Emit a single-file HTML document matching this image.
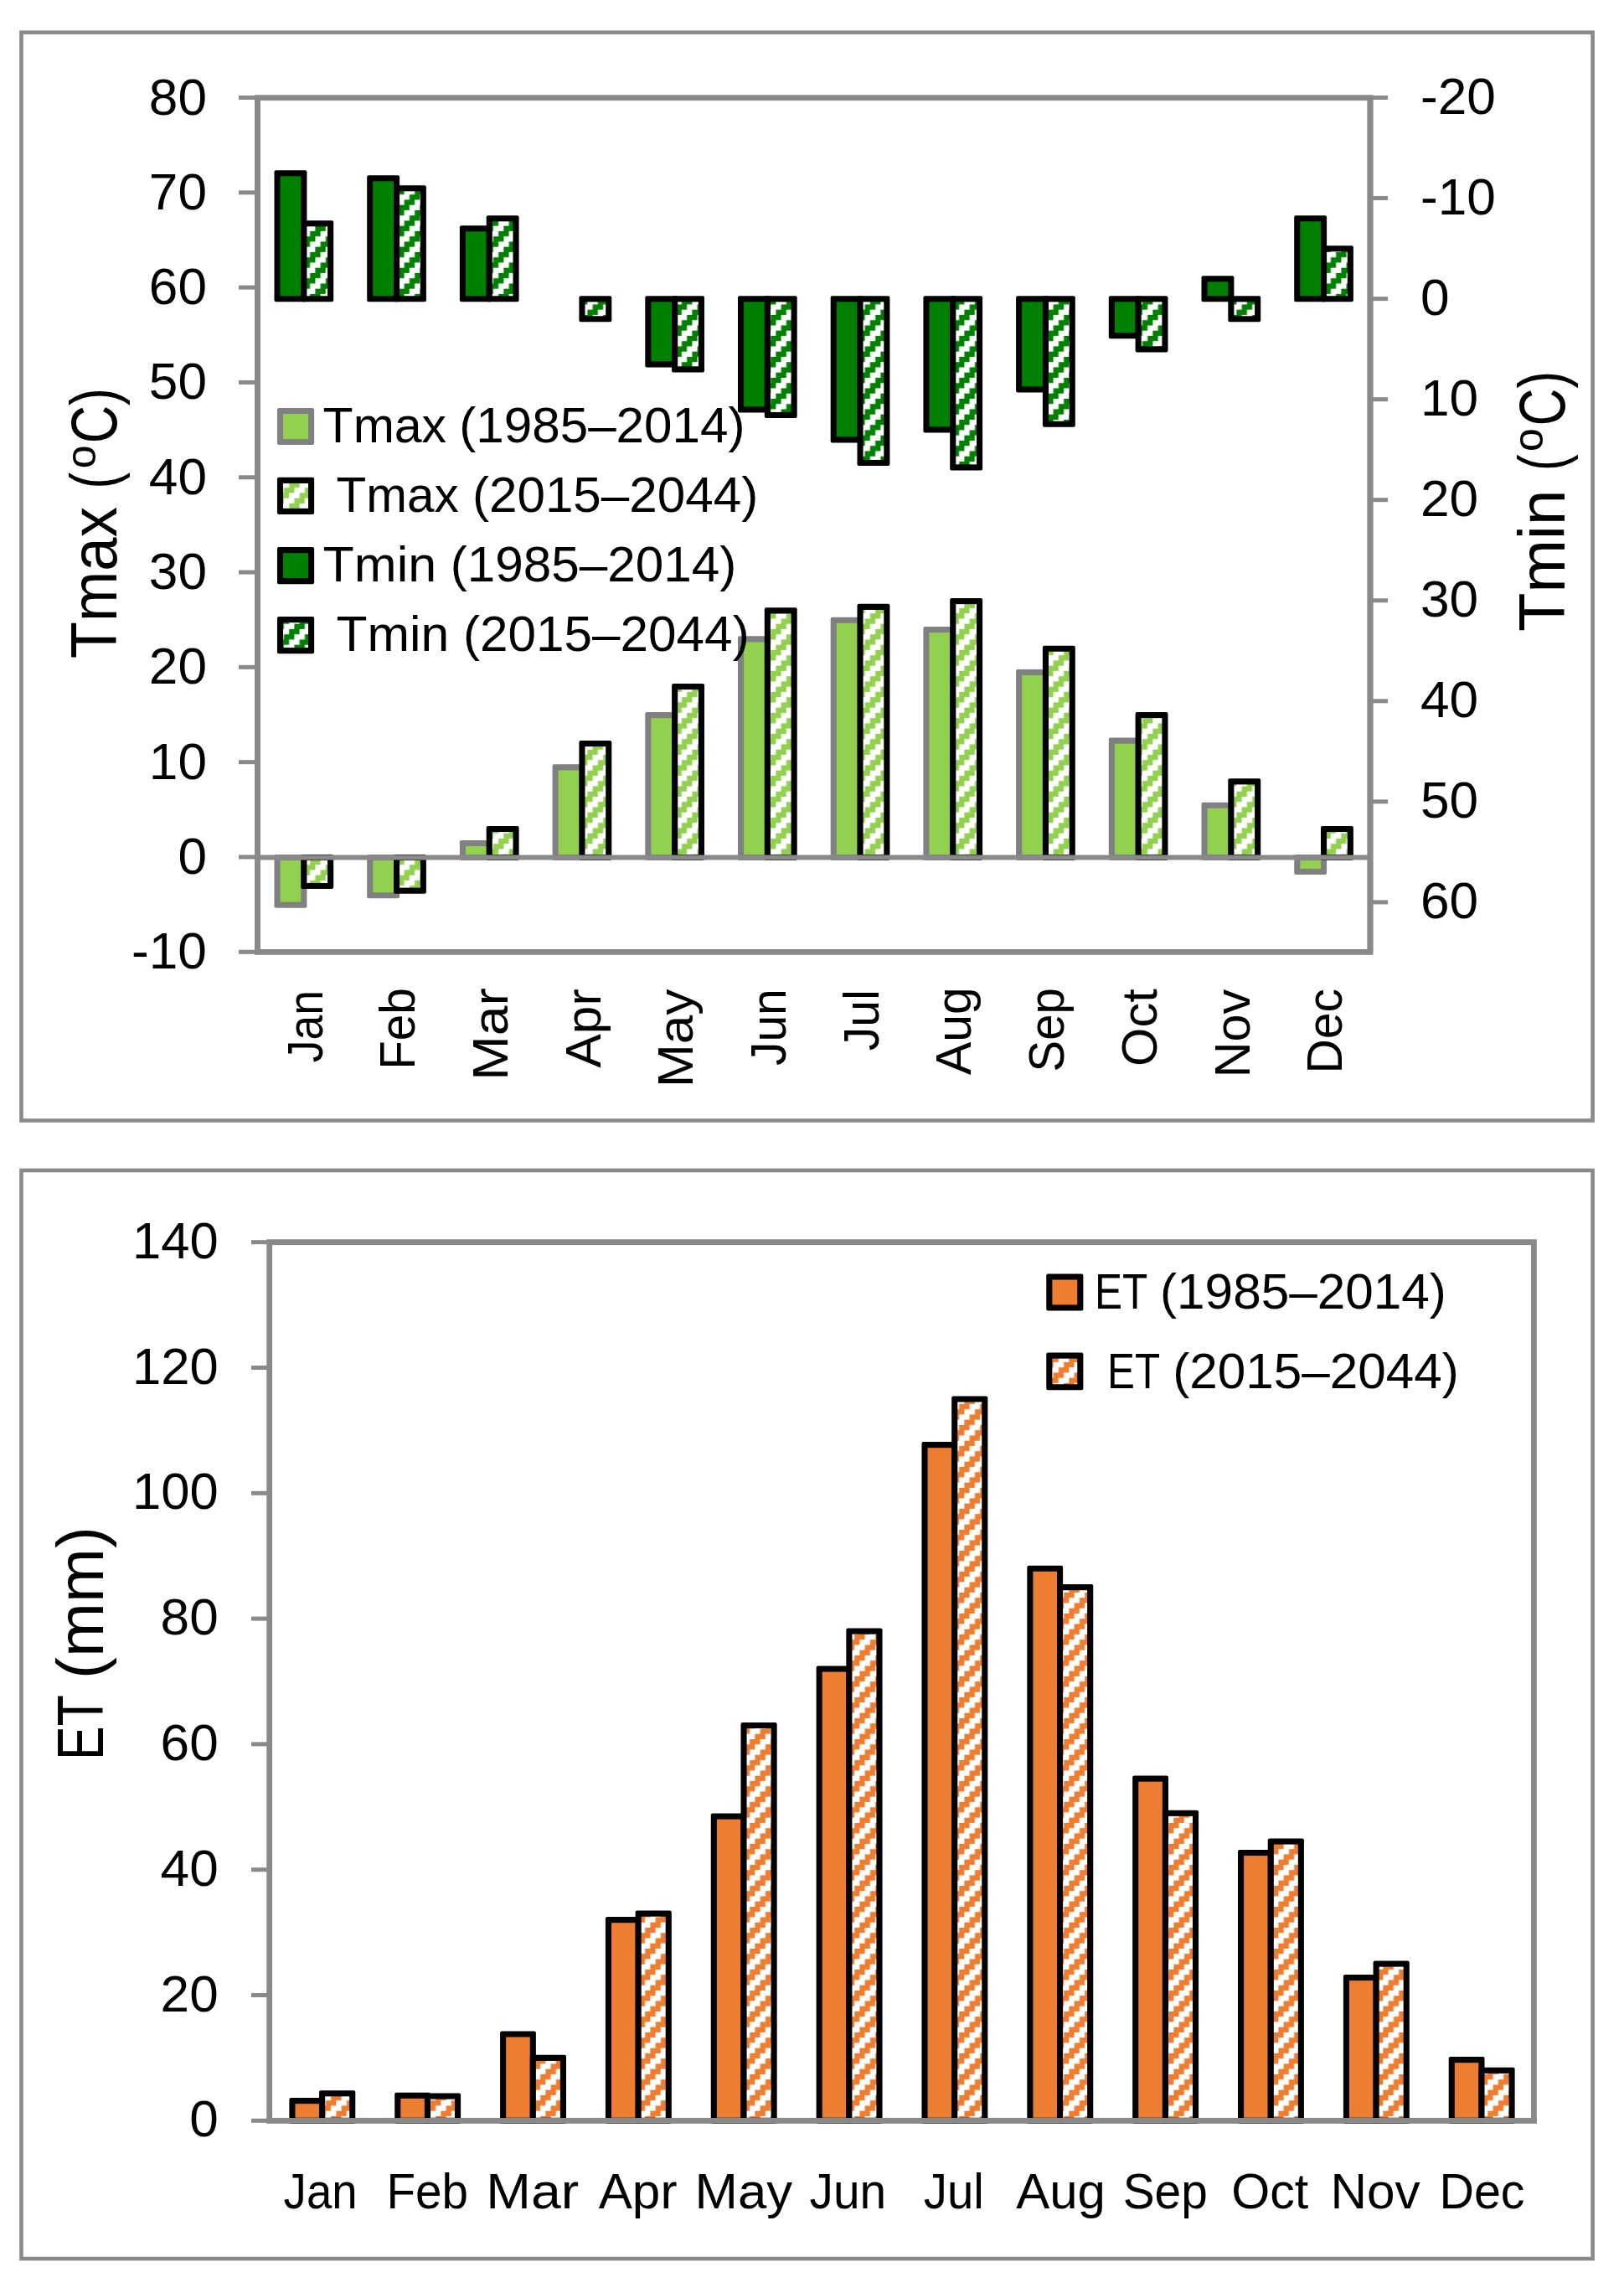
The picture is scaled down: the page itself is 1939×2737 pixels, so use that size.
<!DOCTYPE html>
<html lang="en"><head><meta charset="utf-8"><title>Monthly Tmax, Tmin and ET</title>
<style>html,body{margin:0;padding:0;background:#fff}svg{display:block}text{font-family:"Liberation Sans", sans-serif;fill:#000}</style></head><body>
<svg width="1939" height="2737" viewBox="0 0 1939 2737">
<defs>
<pattern id="hLG" patternUnits="userSpaceOnUse" x="1.4" y="0.9" width="25" height="25"><rect width="25" height="25" fill="#fff"/><path fill="#92d050" d="M0.00 0.00h6.25v6.25h-6.25zM0.00 18.75h6.25v6.25h-6.25zM6.25 12.50h6.25v6.25h-6.25zM6.25 18.75h6.25v6.25h-6.25zM12.50 6.25h6.25v6.25h-6.25zM12.50 12.50h6.25v6.25h-6.25zM18.75 0.00h6.25v6.25h-6.25zM18.75 6.25h6.25v6.25h-6.25z"/></pattern>
<pattern id="hDG" patternUnits="userSpaceOnUse" x="1.4" y="0.9" width="25" height="25"><rect width="25" height="25" fill="#fff"/><path fill="#008000" d="M0.00 0.00h6.25v6.25h-6.25zM0.00 18.75h6.25v6.25h-6.25zM6.25 12.50h6.25v6.25h-6.25zM6.25 18.75h6.25v6.25h-6.25zM12.50 6.25h6.25v6.25h-6.25zM12.50 12.50h6.25v6.25h-6.25zM18.75 0.00h6.25v6.25h-6.25zM18.75 6.25h6.25v6.25h-6.25z"/></pattern>
<pattern id="hOR" patternUnits="userSpaceOnUse" x="1.4" y="0.9" width="25" height="25"><rect width="25" height="25" fill="#fff"/><path fill="#ed7d31" d="M0.00 0.00h6.25v6.25h-6.25zM0.00 18.75h6.25v6.25h-6.25zM6.25 12.50h6.25v6.25h-6.25zM6.25 18.75h6.25v6.25h-6.25zM12.50 6.25h6.25v6.25h-6.25zM12.50 12.50h6.25v6.25h-6.25zM18.75 0.00h6.25v6.25h-6.25zM18.75 6.25h6.25v6.25h-6.25z"/></pattern>
</defs>
<rect width="1939" height="2737" fill="#fff"/>
<rect x="25.5" y="38.7" width="1876.1" height="1298.8" fill="none" stroke="#898989" stroke-width="4.6"/>
<rect x="307.5" y="116.7" width="1328.5" height="1019.7" fill="#fff" stroke="#898989" stroke-width="6.8"/>
<path d="M285 116.50H307.5" stroke="#898989" stroke-width="5"/>
<path d="M285 229.81H307.5" stroke="#898989" stroke-width="5"/>
<path d="M285 343.12H307.5" stroke="#898989" stroke-width="5"/>
<path d="M285 456.43H307.5" stroke="#898989" stroke-width="5"/>
<path d="M285 569.74H307.5" stroke="#898989" stroke-width="5"/>
<path d="M285 683.05H307.5" stroke="#898989" stroke-width="5"/>
<path d="M285 796.36H307.5" stroke="#898989" stroke-width="5"/>
<path d="M285 909.67H307.5" stroke="#898989" stroke-width="5"/>
<path d="M285 1022.98H307.5" stroke="#898989" stroke-width="5"/>
<path d="M285 1136.29H307.5" stroke="#898989" stroke-width="5"/>
<path d="M1636.0 116.50H1657" stroke="#898989" stroke-width="5"/>
<path d="M1636.0 236.55H1657" stroke="#898989" stroke-width="5"/>
<path d="M1636.0 356.60H1657" stroke="#898989" stroke-width="5"/>
<path d="M1636.0 476.65H1657" stroke="#898989" stroke-width="5"/>
<path d="M1636.0 596.70H1657" stroke="#898989" stroke-width="5"/>
<path d="M1636.0 716.75H1657" stroke="#898989" stroke-width="5"/>
<path d="M1636.0 836.80H1657" stroke="#898989" stroke-width="5"/>
<path d="M1636.0 956.85H1657" stroke="#898989" stroke-width="5"/>
<path d="M1636.0 1076.90H1657" stroke="#898989" stroke-width="5"/>
<rect x="327.50" y="1019.95" width="38.90" height="63.75" rx="2" fill="#808080"/>
<rect x="334.60" y="1027.05" width="24.70" height="49.55" fill="#92d050"/>
<rect x="438.20" y="1019.95" width="38.90" height="52.42" rx="2" fill="#808080"/>
<rect x="445.30" y="1027.05" width="24.70" height="38.22" fill="#92d050"/>
<rect x="548.90" y="1002.96" width="38.90" height="24.10" rx="2" fill="#808080"/>
<rect x="556.00" y="1010.05" width="24.70" height="9.90" fill="#92d050"/>
<rect x="659.60" y="912.32" width="38.90" height="114.73" rx="2" fill="#808080"/>
<rect x="666.70" y="919.41" width="24.70" height="100.53" fill="#92d050"/>
<rect x="770.30" y="850.00" width="38.90" height="177.05" rx="2" fill="#808080"/>
<rect x="777.40" y="857.10" width="24.70" height="162.85" fill="#92d050"/>
<rect x="881.00" y="759.36" width="38.90" height="267.69" rx="2" fill="#808080"/>
<rect x="888.10" y="766.46" width="24.70" height="253.49" fill="#92d050"/>
<rect x="991.70" y="736.70" width="38.90" height="290.35" rx="2" fill="#808080"/>
<rect x="998.80" y="743.80" width="24.70" height="276.15" fill="#92d050"/>
<rect x="1102.40" y="748.03" width="38.90" height="279.02" rx="2" fill="#808080"/>
<rect x="1109.50" y="755.13" width="24.70" height="264.82" fill="#92d050"/>
<rect x="1213.10" y="799.02" width="38.90" height="228.03" rx="2" fill="#808080"/>
<rect x="1220.20" y="806.12" width="24.70" height="213.83" fill="#92d050"/>
<rect x="1323.80" y="880.59" width="38.90" height="146.46" rx="2" fill="#808080"/>
<rect x="1330.90" y="887.69" width="24.70" height="132.26" fill="#92d050"/>
<rect x="1434.50" y="957.63" width="38.90" height="69.42" rx="2" fill="#808080"/>
<rect x="1441.60" y="964.73" width="24.70" height="55.22" fill="#92d050"/>
<rect x="1545.20" y="1019.95" width="38.90" height="24.09" rx="2" fill="#808080"/>
<rect x="1552.30" y="1027.05" width="24.70" height="9.89" fill="#92d050"/>
<rect x="359.30" y="1019.95" width="38.90" height="41.09" rx="2" fill="#000"/>
<rect x="366.40" y="1027.05" width="24.70" height="26.89" fill="url(#hLG)"/>
<rect x="470.00" y="1019.95" width="38.90" height="46.75" rx="2" fill="#000"/>
<rect x="477.10" y="1027.05" width="24.70" height="32.55" fill="url(#hLG)"/>
<rect x="580.70" y="985.96" width="38.90" height="41.09" rx="2" fill="#000"/>
<rect x="587.80" y="993.06" width="24.70" height="26.89" fill="url(#hLG)"/>
<rect x="691.40" y="883.99" width="38.90" height="143.06" rx="2" fill="#000"/>
<rect x="698.50" y="891.09" width="24.70" height="128.86" fill="url(#hLG)"/>
<rect x="802.10" y="816.01" width="38.90" height="211.04" rx="2" fill="#000"/>
<rect x="809.20" y="823.11" width="24.70" height="196.84" fill="url(#hLG)"/>
<rect x="912.80" y="725.37" width="38.90" height="301.68" rx="2" fill="#000"/>
<rect x="919.90" y="732.47" width="24.70" height="287.48" fill="url(#hLG)"/>
<rect x="1023.50" y="720.84" width="38.90" height="306.21" rx="2" fill="#000"/>
<rect x="1030.60" y="727.94" width="24.70" height="292.01" fill="url(#hLG)"/>
<rect x="1134.20" y="714.04" width="38.90" height="313.01" rx="2" fill="#000"/>
<rect x="1141.30" y="721.14" width="24.70" height="298.81" fill="url(#hLG)"/>
<rect x="1244.90" y="770.69" width="38.90" height="256.36" rx="2" fill="#000"/>
<rect x="1252.00" y="777.79" width="24.70" height="242.16" fill="url(#hLG)"/>
<rect x="1355.60" y="850.00" width="38.90" height="177.05" rx="2" fill="#000"/>
<rect x="1362.70" y="857.10" width="24.70" height="162.85" fill="url(#hLG)"/>
<rect x="1466.30" y="929.31" width="38.90" height="97.74" rx="2" fill="#000"/>
<rect x="1473.40" y="936.41" width="24.70" height="83.54" fill="url(#hLG)"/>
<rect x="1577.00" y="985.96" width="38.90" height="41.09" rx="2" fill="#000"/>
<rect x="1584.10" y="993.06" width="24.70" height="26.89" fill="url(#hLG)"/>
<rect x="327.50" y="203.19" width="38.90" height="157.16" rx="2" fill="#000"/>
<rect x="334.60" y="210.29" width="24.70" height="142.96" fill="#008000"/>
<rect x="438.20" y="209.19" width="38.90" height="151.16" rx="2" fill="#000"/>
<rect x="445.30" y="216.29" width="24.70" height="136.96" fill="#008000"/>
<rect x="548.90" y="269.21" width="38.90" height="91.14" rx="2" fill="#000"/>
<rect x="556.00" y="276.31" width="24.70" height="76.94" fill="#008000"/>
<rect x="770.30" y="353.25" width="38.90" height="85.13" rx="2" fill="#000"/>
<rect x="777.40" y="360.35" width="24.70" height="70.93" fill="#008000"/>
<rect x="881.00" y="353.25" width="38.90" height="139.16" rx="2" fill="#000"/>
<rect x="888.10" y="360.35" width="24.70" height="124.96" fill="#008000"/>
<rect x="991.70" y="353.25" width="38.90" height="175.17" rx="2" fill="#000"/>
<rect x="998.80" y="360.35" width="24.70" height="160.97" fill="#008000"/>
<rect x="1102.40" y="353.25" width="38.90" height="163.16" rx="2" fill="#000"/>
<rect x="1109.50" y="360.35" width="24.70" height="148.97" fill="#008000"/>
<rect x="1213.10" y="353.25" width="38.90" height="115.15" rx="2" fill="#000"/>
<rect x="1220.20" y="360.35" width="24.70" height="100.95" fill="#008000"/>
<rect x="1323.80" y="353.25" width="38.90" height="50.92" rx="2" fill="#000"/>
<rect x="1330.90" y="360.35" width="24.70" height="36.72" fill="#008000"/>
<rect x="1434.50" y="329.24" width="38.90" height="31.11" rx="2" fill="#000"/>
<rect x="1441.60" y="336.34" width="24.70" height="16.91" fill="#008000"/>
<rect x="1545.20" y="257.21" width="38.90" height="103.14" rx="2" fill="#000"/>
<rect x="1552.30" y="264.31" width="24.70" height="88.94" fill="#008000"/>
<rect x="359.30" y="263.21" width="38.90" height="97.14" rx="2" fill="#000"/>
<rect x="366.40" y="270.31" width="24.70" height="82.94" fill="url(#hDG)"/>
<rect x="470.00" y="221.19" width="38.90" height="139.16" rx="2" fill="#000"/>
<rect x="477.10" y="228.30" width="24.70" height="124.96" fill="url(#hDG)"/>
<rect x="580.70" y="257.21" width="38.90" height="103.14" rx="2" fill="#000"/>
<rect x="587.80" y="264.31" width="24.70" height="88.94" fill="url(#hDG)"/>
<rect x="691.40" y="353.25" width="38.90" height="31.11" rx="2" fill="#000"/>
<rect x="698.50" y="360.35" width="24.70" height="16.91" fill="url(#hDG)"/>
<rect x="802.10" y="353.25" width="38.90" height="91.14" rx="2" fill="#000"/>
<rect x="809.20" y="360.35" width="24.70" height="76.94" fill="url(#hDG)"/>
<rect x="912.80" y="353.25" width="38.90" height="145.76" rx="2" fill="#000"/>
<rect x="919.90" y="360.35" width="24.70" height="131.56" fill="url(#hDG)"/>
<rect x="1023.50" y="353.25" width="38.90" height="202.78" rx="2" fill="#000"/>
<rect x="1030.60" y="360.35" width="24.70" height="188.58" fill="url(#hDG)"/>
<rect x="1134.20" y="353.25" width="38.90" height="208.18" rx="2" fill="#000"/>
<rect x="1141.30" y="360.35" width="24.70" height="193.98" fill="url(#hDG)"/>
<rect x="1244.90" y="353.25" width="38.90" height="156.56" rx="2" fill="#000"/>
<rect x="1252.00" y="360.35" width="24.70" height="142.36" fill="url(#hDG)"/>
<rect x="1355.60" y="353.25" width="38.90" height="67.13" rx="2" fill="#000"/>
<rect x="1362.70" y="360.35" width="24.70" height="52.93" fill="url(#hDG)"/>
<rect x="1466.30" y="353.25" width="38.90" height="31.11" rx="2" fill="#000"/>
<rect x="1473.40" y="360.35" width="24.70" height="16.91" fill="url(#hDG)"/>
<rect x="1577.00" y="293.22" width="38.90" height="67.13" rx="2" fill="#000"/>
<rect x="1584.10" y="300.32" width="24.70" height="52.93" fill="url(#hDG)"/>
<path d="M307.5 1023.50H1636.0" stroke="#898989" stroke-width="6"/>
<path d="M307.5 116.7V1136.4M1636.0 116.7V1136.4" stroke="#898989" stroke-width="6.8"/>
<rect x="330.95" y="486.95" width="44.20" height="44.10" rx="2" fill="#808080"/>
<rect x="338.05" y="494.05" width="30.00" height="29.90" fill="#92d050"/>
<rect x="330.95" y="569.85" width="44.20" height="44.10" rx="2" fill="#000"/>
<rect x="338.05" y="576.95" width="30.00" height="29.90" fill="url(#hLG)"/>
<rect x="330.95" y="653.05" width="44.20" height="44.10" rx="2" fill="#000"/>
<rect x="338.05" y="660.15" width="30.00" height="29.90" fill="#008000"/>
<rect x="330.95" y="736.05" width="44.20" height="44.10" rx="2" fill="#000"/>
<rect x="338.05" y="743.15" width="30.00" height="29.90" fill="url(#hDG)"/>
<rect x="25.5" y="1397" width="1876.1" height="1299.1" fill="none" stroke="#898989" stroke-width="4.6"/>
<rect x="321.7" y="1482.7" width="1509.7" height="1048.6" fill="#fff" stroke="#898989" stroke-width="6.8"/>
<path d="M300 1482.70H321.7" stroke="#898989" stroke-width="5"/>
<path d="M300 1632.50H321.7" stroke="#898989" stroke-width="5"/>
<path d="M300 1782.30H321.7" stroke="#898989" stroke-width="5"/>
<path d="M300 1932.10H321.7" stroke="#898989" stroke-width="5"/>
<path d="M300 2081.90H321.7" stroke="#898989" stroke-width="5"/>
<path d="M300 2231.70H321.7" stroke="#898989" stroke-width="5"/>
<path d="M300 2381.50H321.7" stroke="#898989" stroke-width="5"/>
<path d="M300 2531.30H321.7" stroke="#898989" stroke-width="5"/>
<rect x="345.38" y="2504.08" width="42.80" height="30.77" rx="2" fill="#000"/>
<rect x="352.48" y="2511.18" width="28.60" height="16.57" fill="#ed7d31"/>
<rect x="471.22" y="2497.79" width="42.80" height="37.06" rx="2" fill="#000"/>
<rect x="478.32" y="2504.89" width="28.60" height="22.86" fill="#ed7d31"/>
<rect x="597.08" y="2424.39" width="42.80" height="110.46" rx="2" fill="#000"/>
<rect x="604.17" y="2431.49" width="28.60" height="96.26" fill="#ed7d31"/>
<rect x="722.92" y="2288.07" width="42.80" height="246.78" rx="2" fill="#000"/>
<rect x="730.02" y="2295.17" width="28.60" height="232.58" fill="#ed7d31"/>
<rect x="848.77" y="2164.49" width="42.80" height="370.36" rx="2" fill="#000"/>
<rect x="855.87" y="2171.59" width="28.60" height="356.16" fill="#ed7d31"/>
<rect x="974.62" y="1988.47" width="42.80" height="546.38" rx="2" fill="#000"/>
<rect x="981.72" y="1995.57" width="28.60" height="532.18" fill="#ed7d31"/>
<rect x="1100.47" y="1721.08" width="42.80" height="813.77" rx="2" fill="#000"/>
<rect x="1107.57" y="1728.18" width="28.60" height="799.57" fill="#ed7d31"/>
<rect x="1226.33" y="1868.63" width="42.80" height="666.22" rx="2" fill="#000"/>
<rect x="1233.42" y="1875.73" width="28.60" height="652.02" fill="#ed7d31"/>
<rect x="1352.17" y="2119.55" width="42.80" height="415.30" rx="2" fill="#000"/>
<rect x="1359.27" y="2126.65" width="28.60" height="401.10" fill="#ed7d31"/>
<rect x="1478.03" y="2207.93" width="42.80" height="326.92" rx="2" fill="#000"/>
<rect x="1485.12" y="2215.03" width="28.60" height="312.72" fill="#ed7d31"/>
<rect x="1603.88" y="2356.98" width="42.80" height="177.87" rx="2" fill="#000"/>
<rect x="1610.97" y="2364.08" width="28.60" height="163.67" fill="#ed7d31"/>
<rect x="1729.72" y="2455.10" width="42.80" height="79.75" rx="2" fill="#000"/>
<rect x="1736.82" y="2462.20" width="28.60" height="65.55" fill="#ed7d31"/>
<rect x="381.07" y="2495.24" width="43.20" height="39.61" rx="2" fill="#000"/>
<rect x="388.18" y="2502.34" width="29.00" height="25.41" fill="url(#hOR)"/>
<rect x="506.92" y="2498.54" width="43.20" height="36.31" rx="2" fill="#000"/>
<rect x="514.02" y="2505.64" width="29.00" height="22.11" fill="url(#hOR)"/>
<rect x="632.78" y="2452.85" width="43.20" height="82.00" rx="2" fill="#000"/>
<rect x="639.88" y="2459.95" width="29.00" height="67.80" fill="url(#hOR)"/>
<rect x="758.62" y="2280.58" width="43.20" height="254.27" rx="2" fill="#000"/>
<rect x="765.72" y="2287.68" width="29.00" height="240.07" fill="url(#hOR)"/>
<rect x="884.47" y="2055.88" width="43.20" height="478.97" rx="2" fill="#000"/>
<rect x="891.57" y="2062.98" width="29.00" height="464.77" fill="url(#hOR)"/>
<rect x="1010.33" y="1943.53" width="43.20" height="591.32" rx="2" fill="#000"/>
<rect x="1017.42" y="1950.63" width="29.00" height="577.12" fill="url(#hOR)"/>
<rect x="1136.17" y="1666.40" width="43.20" height="868.45" rx="2" fill="#000"/>
<rect x="1143.27" y="1673.50" width="29.00" height="854.25" fill="url(#hOR)"/>
<rect x="1262.03" y="1891.10" width="43.20" height="643.75" rx="2" fill="#000"/>
<rect x="1269.12" y="1898.20" width="29.00" height="629.55" fill="url(#hOR)"/>
<rect x="1387.88" y="2160.74" width="43.20" height="374.11" rx="2" fill="#000"/>
<rect x="1394.97" y="2167.84" width="29.00" height="359.91" fill="url(#hOR)"/>
<rect x="1513.73" y="2194.45" width="43.20" height="340.40" rx="2" fill="#000"/>
<rect x="1520.83" y="2201.55" width="29.00" height="326.20" fill="url(#hOR)"/>
<rect x="1639.58" y="2340.50" width="43.20" height="194.35" rx="2" fill="#000"/>
<rect x="1646.67" y="2347.60" width="29.00" height="180.15" fill="url(#hOR)"/>
<rect x="1765.42" y="2467.83" width="43.20" height="67.02" rx="2" fill="#000"/>
<rect x="1772.52" y="2474.93" width="29.00" height="52.82" fill="url(#hOR)"/>
<path d="M318.3 2531.30H1834.8" stroke="#898989" stroke-width="6.4"/>
<rect x="1249.25" y="1520.45" width="44.10" height="44.10" rx="2" fill="#000"/>
<rect x="1256.35" y="1527.55" width="29.90" height="29.90" fill="#ed7d31"/>
<rect x="1249.25" y="1614.55" width="44.10" height="44.80" rx="2" fill="#000"/>
<rect x="1256.35" y="1621.65" width="29.90" height="30.60" fill="url(#hOR)"/>
<text x="247.00" y="136.50" font-size="60.3" text-anchor="end" textLength="69.20" lengthAdjust="spacingAndGlyphs">80</text>
<text x="247.00" y="249.81" font-size="60.3" text-anchor="end" textLength="69.20" lengthAdjust="spacingAndGlyphs">70</text>
<text x="247.00" y="363.12" font-size="60.3" text-anchor="end" textLength="69.20" lengthAdjust="spacingAndGlyphs">60</text>
<text x="247.00" y="476.43" font-size="60.3" text-anchor="end" textLength="69.20" lengthAdjust="spacingAndGlyphs">50</text>
<text x="247.00" y="589.74" font-size="60.3" text-anchor="end" textLength="69.20" lengthAdjust="spacingAndGlyphs">40</text>
<text x="247.00" y="703.05" font-size="60.3" text-anchor="end" textLength="69.20" lengthAdjust="spacingAndGlyphs">30</text>
<text x="247.00" y="816.36" font-size="60.3" text-anchor="end" textLength="69.20" lengthAdjust="spacingAndGlyphs">20</text>
<text x="247.00" y="929.67" font-size="60.3" text-anchor="end" textLength="69.20" lengthAdjust="spacingAndGlyphs">10</text>
<text x="247.00" y="1042.98" font-size="60.3" text-anchor="end" textLength="34.60" lengthAdjust="spacingAndGlyphs">0</text>
<text x="247.00" y="1156.29" font-size="60.3" text-anchor="end" textLength="90.00" lengthAdjust="spacingAndGlyphs">-10</text>
<text x="1696.00" y="135.70" font-size="60.3" text-anchor="start" textLength="90.00" lengthAdjust="spacingAndGlyphs">-20</text>
<text x="1696.00" y="255.75" font-size="60.3" text-anchor="start" textLength="90.00" lengthAdjust="spacingAndGlyphs">-10</text>
<text x="1696.00" y="375.80" font-size="60.3" text-anchor="start" textLength="34.60" lengthAdjust="spacingAndGlyphs">0</text>
<text x="1696.00" y="495.85" font-size="60.3" text-anchor="start" textLength="69.20" lengthAdjust="spacingAndGlyphs">10</text>
<text x="1696.00" y="615.90" font-size="60.3" text-anchor="start" textLength="69.20" lengthAdjust="spacingAndGlyphs">20</text>
<text x="1696.00" y="735.95" font-size="60.3" text-anchor="start" textLength="69.20" lengthAdjust="spacingAndGlyphs">30</text>
<text x="1696.00" y="856.00" font-size="60.3" text-anchor="start" textLength="69.20" lengthAdjust="spacingAndGlyphs">40</text>
<text x="1696.00" y="976.05" font-size="60.3" text-anchor="start" textLength="69.20" lengthAdjust="spacingAndGlyphs">50</text>
<text x="1696.00" y="1096.10" font-size="60.3" text-anchor="start" textLength="69.20" lengthAdjust="spacingAndGlyphs">60</text>
<text x="260.80" y="1501.80" font-size="60.3" text-anchor="end" textLength="102.76" lengthAdjust="spacingAndGlyphs">140</text>
<text x="260.80" y="1651.60" font-size="60.3" text-anchor="end" textLength="102.76" lengthAdjust="spacingAndGlyphs">120</text>
<text x="260.80" y="1801.40" font-size="60.3" text-anchor="end" textLength="102.76" lengthAdjust="spacingAndGlyphs">100</text>
<text x="260.80" y="1951.20" font-size="60.3" text-anchor="end" textLength="69.20" lengthAdjust="spacingAndGlyphs">80</text>
<text x="260.80" y="2101.00" font-size="60.3" text-anchor="end" textLength="69.20" lengthAdjust="spacingAndGlyphs">60</text>
<text x="260.80" y="2250.80" font-size="60.3" text-anchor="end" textLength="69.20" lengthAdjust="spacingAndGlyphs">40</text>
<text x="260.80" y="2400.60" font-size="60.3" text-anchor="end" textLength="69.20" lengthAdjust="spacingAndGlyphs">20</text>
<text x="260.80" y="2550.40" font-size="60.3" text-anchor="end" textLength="34.60" lengthAdjust="spacingAndGlyphs">0</text>
<text y="527.90" font-size="58.8"><tspan x="385.60" textLength="147.51" lengthAdjust="spacingAndGlyphs">Tmax</tspan> <tspan x="548.20" textLength="341.40" lengthAdjust="spacingAndGlyphs">(1985–2014)</tspan></text>
<text y="610.80" font-size="58.8"><tspan x="401.50" textLength="146.19" lengthAdjust="spacingAndGlyphs">Tmax</tspan> <tspan x="563.90" textLength="341.40" lengthAdjust="spacingAndGlyphs">(2015–2044)</tspan></text>
<text y="693.60" font-size="58.8"><tspan x="385.60" textLength="135.54" lengthAdjust="spacingAndGlyphs">Tmin</tspan> <tspan x="537.70" textLength="341.61" lengthAdjust="spacingAndGlyphs">(1985–2014)</tspan></text>
<text y="776.80" font-size="58.8"><tspan x="401.50" textLength="134.80" lengthAdjust="spacingAndGlyphs">Tmin</tspan> <tspan x="553.00" textLength="341.70" lengthAdjust="spacingAndGlyphs">(2015–2044)</tspan></text>
<text transform="translate(384.55 0) rotate(-90)" font-size="59.6"><tspan x="-1268.30" textLength="86.27" lengthAdjust="spacingAndGlyphs">Jan</tspan></text>
<text transform="translate(495.25 0) rotate(-90)" font-size="59.6"><tspan x="-1276.80" textLength="97.69" lengthAdjust="spacingAndGlyphs">Feb</tspan></text>
<text transform="translate(605.95 0) rotate(-90)" font-size="59.6"><tspan x="-1289.70" textLength="110.67" lengthAdjust="spacingAndGlyphs">Mar</tspan></text>
<text transform="translate(716.65 0) rotate(-90)" font-size="59.6"><tspan x="-1274.60" textLength="94.18" lengthAdjust="spacingAndGlyphs">Apr</tspan></text>
<text transform="translate(827.35 0) rotate(-90)" font-size="59.6"><tspan x="-1298.10" textLength="117.39" lengthAdjust="spacingAndGlyphs">May</tspan></text>
<text transform="translate(938.05 0) rotate(-90)" font-size="59.6"><tspan x="-1272.10" textLength="91.92" lengthAdjust="spacingAndGlyphs">Jun</tspan></text>
<text transform="translate(1048.75 0) rotate(-90)" font-size="59.6"><tspan x="-1254.20" textLength="73.01" lengthAdjust="spacingAndGlyphs">Jul</tspan></text>
<text transform="translate(1159.45 0) rotate(-90)" font-size="59.6"><tspan x="-1283.00" textLength="104.78" lengthAdjust="spacingAndGlyphs">Aug</tspan></text>
<text transform="translate(1270.15 0) rotate(-90)" font-size="59.6"><tspan x="-1279.40" textLength="100.18" lengthAdjust="spacingAndGlyphs">Sep</tspan></text>
<text transform="translate(1380.85 0) rotate(-90)" font-size="59.6"><tspan x="-1272.90" textLength="92.64" lengthAdjust="spacingAndGlyphs">Oct</tspan></text>
<text transform="translate(1491.55 0) rotate(-90)" font-size="59.6"><tspan x="-1286.30" textLength="105.35" lengthAdjust="spacingAndGlyphs">Nov</tspan></text>
<text transform="translate(1602.25 0) rotate(-90)" font-size="59.6"><tspan x="-1281.40" textLength="101.29" lengthAdjust="spacingAndGlyphs">Dec</tspan></text>
<text y="2636.00" font-size="59.6"><tspan x="338.60" textLength="88.02" lengthAdjust="spacingAndGlyphs">Jan</tspan></text>
<text y="2636.00" font-size="59.6"><tspan x="461.50" textLength="97.55" lengthAdjust="spacingAndGlyphs">Feb</tspan></text>
<text y="2636.00" font-size="59.6"><tspan x="580.30" textLength="110.98" lengthAdjust="spacingAndGlyphs">Mar</tspan></text>
<text y="2636.00" font-size="59.6"><tspan x="714.70" textLength="93.77" lengthAdjust="spacingAndGlyphs">Apr</tspan></text>
<text y="2636.00" font-size="59.6"><tspan x="829.50" textLength="116.58" lengthAdjust="spacingAndGlyphs">May</tspan></text>
<text y="2636.00" font-size="59.6"><tspan x="966.50" textLength="91.72" lengthAdjust="spacingAndGlyphs">Jun</tspan></text>
<text y="2636.00" font-size="59.6"><tspan x="1102.70" textLength="72.12" lengthAdjust="spacingAndGlyphs">Jul</tspan></text>
<text y="2636.00" font-size="59.6"><tspan x="1213.30" textLength="106.66" lengthAdjust="spacingAndGlyphs">Aug</tspan></text>
<text y="2636.00" font-size="59.6"><tspan x="1340.70" textLength="101.09" lengthAdjust="spacingAndGlyphs">Sep</tspan></text>
<text y="2636.00" font-size="59.6"><tspan x="1470.20" textLength="92.13" lengthAdjust="spacingAndGlyphs">Oct</tspan></text>
<text y="2636.00" font-size="59.6"><tspan x="1588.50" textLength="107.19" lengthAdjust="spacingAndGlyphs">Nov</tspan></text>
<text y="2636.00" font-size="59.6"><tspan x="1718.40" textLength="102.19" lengthAdjust="spacingAndGlyphs">Dec</tspan></text>
<text y="1561.80" font-size="58.8"><tspan x="1306.90" textLength="62.39" lengthAdjust="spacingAndGlyphs">ET</tspan> <tspan x="1385.00" textLength="341.91" lengthAdjust="spacingAndGlyphs">(1985–2014)</tspan></text>
<text y="1656.60" font-size="58.8"><tspan x="1322.10" textLength="62.19" lengthAdjust="spacingAndGlyphs">ET</tspan> <tspan x="1400.20" textLength="341.50" lengthAdjust="spacingAndGlyphs">(2015–2044)</tspan></text>
<text transform="translate(139.20 0) rotate(-90)" font-size="77.0"><tspan x="-786.30" textLength="181.17" lengthAdjust="spacingAndGlyphs">Tmax</tspan> <tspan x="-583.60" textLength="19.70" lengthAdjust="spacingAndGlyphs">(</tspan><tspan x="-559.30" dy="-25.5" font-size="50.0">o</tspan><tspan x="-529.30" textLength="66.33" lengthAdjust="spacingAndGlyphs" dy="25.5">C)</tspan></text>
<text transform="translate(1867.70 0) rotate(-90)" font-size="77.0"><tspan x="-754.00" textLength="169.30" lengthAdjust="spacingAndGlyphs">Tmin</tspan> <tspan x="-562.10" textLength="19.61" lengthAdjust="spacingAndGlyphs">(</tspan><tspan x="-539.10" dy="-25.5" font-size="50.0">o</tspan><tspan x="-508.40" textLength="65.69" lengthAdjust="spacingAndGlyphs" dy="25.5">C)</tspan></text>
<text transform="translate(122.80 0) rotate(-90)" font-size="77.0"><tspan x="-2100.90" textLength="76.81" lengthAdjust="spacingAndGlyphs">ET</tspan> <tspan x="-2003.90" textLength="181.86" lengthAdjust="spacingAndGlyphs">(mm)</tspan></text>
</svg></body></html>
